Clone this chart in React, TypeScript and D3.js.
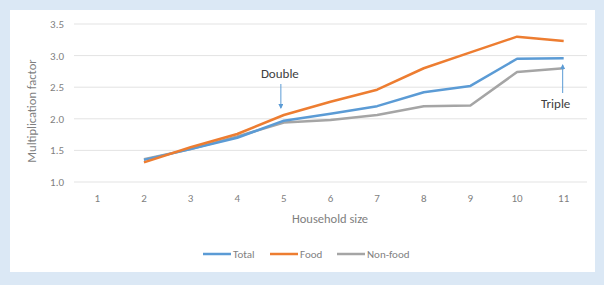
import React, { useRef, useEffect } from "react";
import * as d3 from "d3";

// household sizes on the x axis
const sizes = ["1", "2", "3", "4", "5", "6", "7", "8", "9", "10", "11"];
// values start at size 2
const totalValues = [null, 1.35, 1.52, 1.7, 1.97, 2.08, 2.2, 2.42, 2.52, 2.95, 2.96];
const foodValues = [null, 1.31, 1.55, 1.76, 2.06, 2.27, 2.46, 2.8, 3.05, 3.3, 3.23];
const nonFoodValues = [null, 1.36, 1.52, 1.72, 1.94, 1.98, 2.06, 2.2, 2.21, 2.74, 2.8];
const yTicks = [1.0, 1.5, 2.0, 2.5, 3.0, 3.5];
const seriesNames = ["Total", "Food", "Non-food"];
const seriesColors = ["#5b9bd5", "#ed7d31", "#a5a5a5"];

const App = () => {
  const svgRef = useRef<SVGSVGElement>(null);

  useEffect(() => {
    const svg = d3.select(svgRef.current);
    svg.selectAll("*").remove();

    const width = 604;
    const height = 285;
    const margin = { top: 24, right: 17, bottom: 103, left: 74 };
    const font = "Calibri, Carlito, Lato, sans-serif";
    const textColor = "#7f7f7f";

    // background + panel
    svg.append("rect").attr("width", width).attr("height", height).attr("fill", "#dbe8f5");
    svg
      .append("rect")
      .attr("x", 10)
      .attr("y", 10)
      .attr("width", 585)
      .attr("height", 262)
      .attr("fill", "#ffffff");

    const x = d3
      .scaleBand()
      .domain(sizes)
      .range([margin.left, width - margin.right]);

    const y = d3
      .scaleLinear()
      .domain([1, 3.5])
      .range([height - margin.bottom, margin.top]);

    // gridlines
    svg
      .append("g")
      .selectAll("line")
      .data(yTicks)
      .enter()
      .append("line")
      .attr("x1", margin.left)
      .attr("x2", width - margin.right)
      .attr("y1", (d) => y(d))
      .attr("y2", (d) => y(d))
      .attr("stroke", "#e3e3e3")
      .attr("stroke-width", 1);

    // y tick labels
    svg
      .append("g")
      .selectAll("text")
      .data(yTicks)
      .enter()
      .append("text")
      .attr("x", margin.left - 10)
      .attr("y", (d) => y(d) + 4)
      .attr("text-anchor", "end")
      .attr("font-family", font)
      .attr("font-size", 11)
      .attr("fill", textColor)
      .text((d) => d.toFixed(1));

    // x tick labels
    svg
      .append("g")
      .selectAll("text")
      .data(sizes)
      .enter()
      .append("text")
      .attr("x", (d) => x(d)! + x.bandwidth() / 2)
      .attr("y", 202)
      .attr("text-anchor", "middle")
      .attr("font-family", font)
      .attr("font-size", 11)
      .attr("fill", textColor)
      .text((d) => d);

    // axis titles
    svg
      .append("text")
      .attr("x", 330)
      .attr("y", 223)
      .attr("text-anchor", "middle")
      .attr("font-family", font)
      .attr("font-size", 12.5)
      .attr("fill", textColor)
      .text("Household size");

    svg
      .append("text")
      .attr("transform", `translate(36,${(y(1) + y(3.5)) / 2 + 8}) rotate(-90)`)
      .attr("text-anchor", "middle")
      .attr("font-family", font)
      .attr("font-size", 12.5)
      .attr("fill", textColor)
      .text("Multiplication factor");

    // lines
    const allSeries = [totalValues, foodValues, nonFoodValues];
    const line = d3
      .line<number | null>()
      .defined((d) => d !== null)
      .x((_, i) => x(sizes[i])! + x.bandwidth() / 2)
      .y((d) => y(d as number));

    // draw gray first, then blue, then orange
    [2, 0, 1].forEach((k) => {
      svg
        .append("path")
        .datum(allSeries[k])
        .attr("d", line)
        .attr("fill", "none")
        .attr("stroke", seriesColors[k])
        .attr("stroke-width", 2.5)
        .attr("stroke-linejoin", "round");
    });

    // annotations
    const arrowColor = "#5b9bd5";
    const defs = svg.append("defs");
    defs
      .append("marker")
      .attr("id", "arrow")
      .attr("viewBox", "0 0 10 10")
      .attr("refX", 8)
      .attr("refY", 5)
      .attr("markerWidth", 5)
      .attr("markerHeight", 5)
      .attr("orient", "auto")
      .append("path")
      .attr("d", "M0,0 L10,5 L0,10 z")
      .attr("fill", arrowColor);

    const x5 = x("5")! + x.bandwidth() / 2;
    const x11 = x("11")! + x.bandwidth() / 2;

    svg
      .append("text")
      .attr("x", x5 - 4)
      .attr("y", 78)
      .attr("text-anchor", "middle")
      .attr("font-family", font)
      .attr("font-size", 13)
      .attr("fill", "#404040")
      .text("Double");
    svg
      .append("line")
      .attr("x1", x5 - 3)
      .attr("x2", x5 - 3)
      .attr("y1", 84)
      .attr("y2", 108)
      .attr("stroke", arrowColor)
      .attr("stroke-width", 1)
      .attr("marker-end", "url(#arrow)");

    svg
      .append("text")
      .attr("x", x11 - 8)
      .attr("y", 108)
      .attr("text-anchor", "middle")
      .attr("font-family", font)
      .attr("font-size", 13)
      .attr("fill", "#404040")
      .text("Triple");
    svg
      .append("line")
      .attr("x1", x11 - 1)
      .attr("x2", x11 - 1)
      .attr("y1", 93)
      .attr("y2", 65)
      .attr("stroke", arrowColor)
      .attr("stroke-width", 1)
      .attr("marker-end", "url(#arrow)");

    // legend
    const legendX = [203, 270, 337];
    const legend = svg
      .append("g")
      .selectAll("g")
      .data(seriesNames)
      .enter()
      .append("g")
      .attr("transform", (_, i) => `translate(${legendX[i]},254)`);
    legend
      .append("line")
      .attr("x1", 0)
      .attr("x2", 28)
      .attr("stroke", (_, i) => seriesColors[i])
      .attr("stroke-width", 2.5);
    legend
      .append("text")
      .attr("x", 30)
      .attr("y", 4)
      .attr("font-family", font)
      .attr("font-size", 11)
      .attr("fill", textColor)
      .text((d) => d);
  }, []);

  return (
    <div style={{ position: "absolute", left: 0, top: 0 }}>
      <svg ref={svgRef} width={604} height={285} style={{ display: "block" }}></svg>
    </div>
  );
};

export default App;
